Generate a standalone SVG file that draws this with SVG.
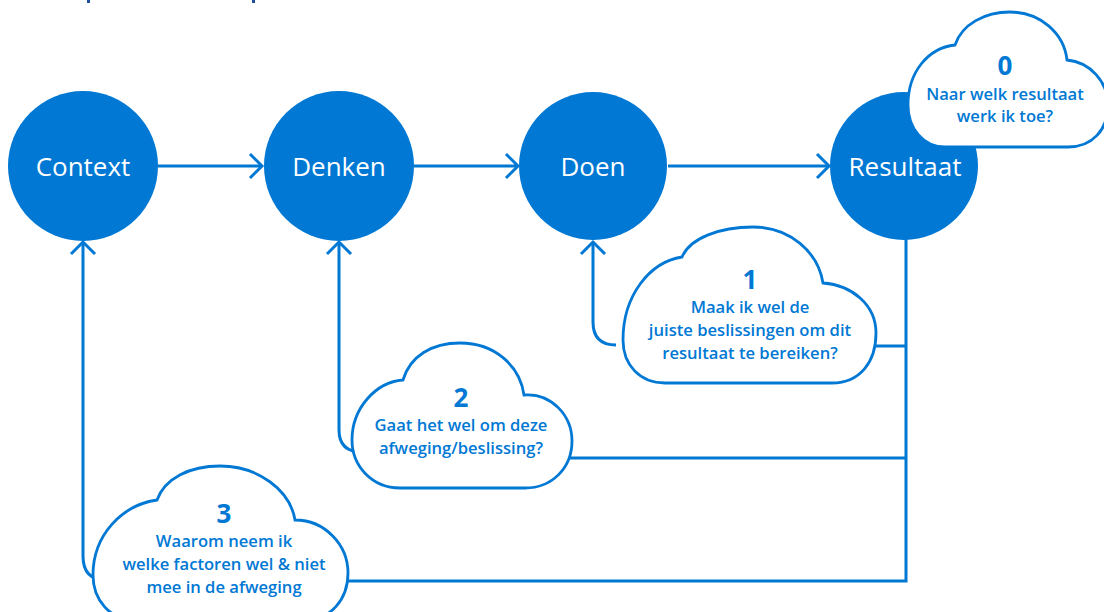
<svg xmlns="http://www.w3.org/2000/svg" width="1104" height="612" viewBox="0 0 1104 612">
<style>
.node{fill:#0078D4}
.nlabel{fill:#fff;font-family:"Open Sans","Noto Sans",sans-serif;font-size:26px;font-weight:500;text-anchor:middle}
.cloud{fill:#fff;stroke:#0078D4;stroke-width:2.8}
.num{fill:#0078D4;font-family:"Open Sans","Noto Sans",sans-serif;font-size:26px;font-weight:700;text-anchor:middle}
.ct{fill:#0078D4;font-family:"Open Sans","Noto Sans",sans-serif;font-size:16.6px;font-weight:600;text-anchor:middle}
.line{fill:none;stroke:#0078D4;stroke-width:3}
.head{fill:none;stroke:#0078D4;stroke-width:3;stroke-linejoin:miter}
</style>
<rect width="1104" height="612" fill="#fff"/>
<rect x="87" y="0" width="3" height="3" fill="#1f4e9c"/>
<rect x="252" y="0" width="3" height="3" fill="#1f4e9c"/>
<g id="connectors">
  <path class="line" d="M158,166 H261"/>
  <path class="head" d="M250,154 L262,166 L250,178"/>
  <path class="line" d="M414,166 H517"/>
  <path class="head" d="M506,154 L518,166 L506,178"/>
  <path class="line" d="M668,166 H828"/>
  <path class="head" d="M817,154 L829,166 L817,178"/>
  <path class="line" d="M906,236 V581 H330"/>
  <path class="line" d="M860,346 H906"/>
  <path class="line" d="M560,458 H906"/>
  <path class="line" d="M83,243 V556 Q83,580 106,580"/>
  <path class="head" d="M71,254 L83,242 L95,254"/>
  <path class="line" d="M339,243 V430 Q339,452 362,452"/>
  <path class="head" d="M327,254 L339,242 L351,254"/>
  <path class="line" d="M593,243 V322 Q593,345 616,345"/>
  <path class="head" d="M581,254 L593,242 L605,254"/>
</g>
<g id="context"><circle class="node" cx="83" cy="166" r="75"/><text class="nlabel" x="83" y="176">Context</text></g>
<g id="denken"><circle class="node" cx="339" cy="166" r="75"/><text class="nlabel" x="339" y="176">Denken</text></g>
<g id="doen"><circle class="node" cx="593" cy="166" r="74"/><text class="nlabel" x="593" y="176">Doen</text></g>
<g id="resultaat"><circle class="node" cx="904" cy="166" r="74"/><text class="nlabel" x="905" y="176">Resultaat</text></g>
<g id="cloud0">
  <path class="cloud" d="M955,45 C962,24 985,12 1010,12 C1040,12 1064,33 1067,60 C1090,62 1108,82 1108,105 C1108,130 1092,147 1068,147 L945,147 C923,147 908,128 908,105 C908,72 928,48 955,45 Z"/>
  <text class="num" x="1005" y="75">0</text>
  <text class="ct" x="1005" y="100">Naar welk resultaat</text>
  <text class="ct" x="1005" y="122">werk ik toe?</text>
</g>
<g id="cloud1">
  <path class="cloud" d="M682,257 C690,238 720,227 753,227 C790,227 818,252 823,283 C852,285 876,305 876,333 C876,362 860,383 832,383 L665,383 C640,383 623,365 623,340 C623,295 650,262 682,257 Z"/>
  <text class="num" x="750" y="289">1</text>
  <text class="ct" x="750" y="313">Maak ik wel de</text>
  <text class="ct" x="750" y="336">juiste beslissingen om dit</text>
  <text class="ct" x="750" y="359">resultaat te bereiken?</text>
</g>
<g id="cloud2">
  <path class="cloud" d="M403,380 C410,356 432,343 460,343 C495,343 520,366 524,395 C552,393 572,416 572,441 C572,468 552,488 525,488 L400,488 C372,488 352,466 352,440 C352,408 376,382 403,380 Z"/>
  <text class="num" x="461" y="407">2</text>
  <text class="ct" x="461" y="431">Gaat het wel om deze</text>
  <text class="ct" x="461" y="454">afweging/beslissing?</text>
</g>
<g id="cloud3">
  <path class="cloud" d="M157,500 C165,478 190,466 220,466 C258,466 290,490 295,520 C325,520 348,545 348,573 C348,600 330,620 305,620 L135,620 C110,620 93,600 93,575 C93,535 122,505 157,500 Z"/>
  <text class="num" x="224" y="523">3</text>
  <text class="ct" x="224" y="547">Waarom neem ik</text>
  <text class="ct" x="224" y="570">welke factoren wel &amp; niet</text>
  <text class="ct" x="224" y="593">mee in de afweging</text>
</g>
</svg>
